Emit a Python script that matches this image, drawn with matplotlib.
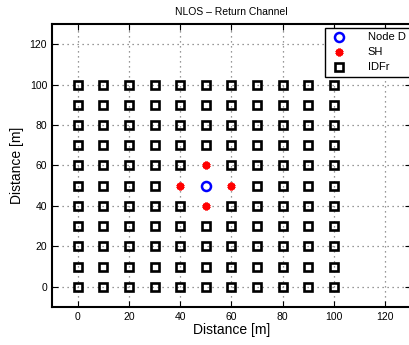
import numpy as np
import matplotlib.pyplot as plt

plt.rcParams['font.family'] = ['Liberation Sans', 'DejaVu Sans']

# node positions
node_x = [50]
node_y = [50]
sh_x = [50, 40, 60, 50]
sh_y = [60, 50, 50, 40]
grid_vals = [0, 10, 20, 30, 40, 50, 60, 70, 80, 90, 100]
ticks = [0, 20, 40, 60, 80, 100, 120]

# IDFr grid, minus the spots taken by node D and SH
taken = set(zip(node_x + sh_x, node_y + sh_y))
idfr_x = []
idfr_y = []
for gy in grid_vals:
    for gx in grid_vals:
        if (gx, gy) not in taken:
            idfr_x.append(gx)
            idfr_y.append(gy)

fig = plt.figure(figsize=(4.09, 3.45), dpi=100)
ax = fig.add_axes([0.127, 0.110, 0.878, 0.821])

ax.grid(True, linestyle=(0, (1, 3)), color='#777777', linewidth=0.9)
ax.set_axisbelow(True)

ax.plot(node_x, node_y, 'o', mfc='none', mec='blue', mew=1.8, ms=6.5, label='Node D')
ax.plot(sh_x, sh_y, marker=(6, 2, 0), ls='none', color='red', mec='red', ms=5.5, mew=2.2, label='SH')
ax.plot(idfr_x, idfr_y, 's', mfc='none', mec='black', mew=1.9, ms=5.5, label='IDFr')

ax.set_xlim(-10, 130)
ax.set_ylim(-10, 130)
ax.set_xticks(ticks)
ax.set_yticks(ticks)
ax.tick_params(direction='in', labelsize=7.5, length=4, top=True, right=True)
for s in ax.spines.values():
    s.set_linewidth(1.5)

ax.set_xlabel('Distance [m]', fontsize=10, labelpad=1)
ax.set_ylabel('Distance [m]', fontsize=10, labelpad=4)
ax.set_title('NLOS \u2013 Return Channel', fontsize=7.5, pad=6)

leg = ax.legend(loc='upper right', fontsize=8, fancybox=False, framealpha=1,
                edgecolor='black', borderpad=0.4, handletextpad=1.8, handlelength=1.6,
                labelspacing=0.45, borderaxespad=0.0, bbox_to_anchor=(0.997, 0.985))
leg.get_frame().set_linewidth(1.0)

fig.savefig('out.png', dpi=100)
